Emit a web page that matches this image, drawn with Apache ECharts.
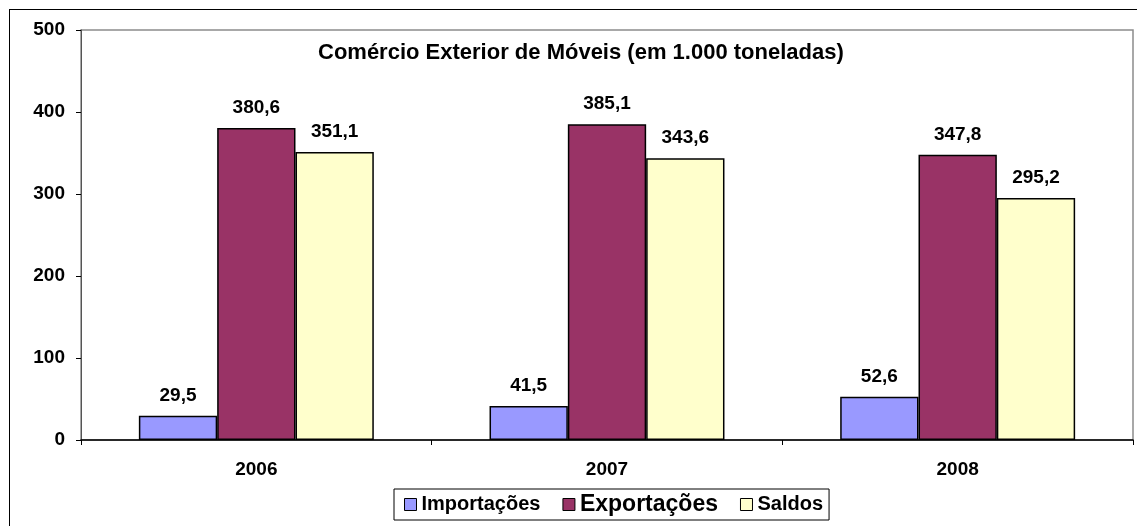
<!DOCTYPE html>
<html>
<head>
<meta charset="utf-8">
<title>Comércio Exterior de Móveis</title>
<style>
  html, body { margin: 0; padding: 0; background: #fff; }
  #frame { position: absolute; left: 9px; top: 9px; width: 1200px; height: 600px; border: 1px solid #000; }
  #main { position: absolute; left: 0; top: 0; width: 1137px; height: 526px; }
</style>
</head>
<body>
<div id="frame"></div>
<div id="main"></div>
<script src="https://cdn.jsdelivr.net/npm/echarts@6/dist/echarts.min.js"></script>
<script type="text/javascript">
    var anos = ['2006', '2007', '2008'];
    var importacoes = [29.5, 41.5, 52.6];
    var exportacoes = [380.6, 385.1, 347.8];
    var saldos = [351.1, 343.6, 295.2];
    var yTicks = [0, 100, 200, 300, 400, 500];

    var fonte = '"Liberation Sans", Arial, sans-serif';
    var myChart = echarts.init(document.getElementById('main'));

    function rotulo(v) {
        return String(v.value).replace('.', ',');
    }

    function serie(nome, dados, cor) {
        return {
            name: nome,
            type: 'bar',
            data: dados,
            barGap: '0%',
            barCategoryGap: '33%',
            itemStyle: { color: cor, borderColor: '#000', borderWidth: 1.5 },
            label: {
                show: true,
                position: 'top',
                distance: 11,
                formatter: rotulo,
                fontFamily: fonte,
                fontWeight: 'bold',
                fontSize: 19,
                color: '#000'
            }
        };
    }

    var option = {
        animation: false,
        title: {
            text: 'Comércio Exterior de Móveis (em 1.000 toneladas)',
            left: 313,
            top: 37,
            textStyle: { fontFamily: fonte, fontWeight: 'bold', fontSize: 22, color: '#000' }
        },
        grid: {
            left: 81, top: 30, right: 4, bottom: 86,
            show: true, borderColor: '#8c8c8c', borderWidth: 1.5
        },
        legend: {
            left: 394,
            top: 489,
            padding: [4, 6, 4, 10],
            borderColor: '#000',
            borderWidth: 1,
            itemWidth: 12,
            itemHeight: 12,
            itemGap: 22,
            icon: 'rect',
            itemStyle: { borderColor: '#000', borderWidth: 1 },
            textStyle: { fontFamily: fonte, fontWeight: 'bold', fontSize: 20, color: '#000', padding: [0, 0, 0, 0] },
            formatter: function (n) {
                return n === 'Exportações' ? '{big|' + n + '}' : n;
            },
            data: ['Importações', 'Exportações', 'Saldos']
        },
        xAxis: {
            type: 'category',
            data: anos,
            axisLine: { lineStyle: { color: '#000', width: 1.5 } },
            axisTick: { show: true, length: 5, lineStyle: { color: '#000' } },
            axisLabel: { fontFamily: fonte, fontWeight: 'bold', fontSize: 19, color: '#000', margin: 20 }
        },
        yAxis: {
            type: 'value',
            min: yTicks[0],
            max: yTicks[yTicks.length - 1],
            interval: yTicks[1] - yTicks[0],
            axisLine: { show: true, lineStyle: { color: '#555', width: 1 } },
            axisTick: { show: true, length: 5, lineStyle: { color: '#000' } },
            splitLine: { show: false },
            axisLabel: { fontFamily: fonte, fontWeight: 'bold', fontSize: 19, color: '#000', margin: 16 }
        },
        series: [
            serie('Importações', importacoes, '#9999ff'),
            serie('Exportações', exportacoes, '#993366'),
            serie('Saldos', saldos, '#ffffcc')
        ]
    };
    option.legend.textStyle.rich = { big: { fontFamily: fonte, fontWeight: 'bold', fontSize: 23, color: '#000' } };
    myChart.setOption(option);
</script>
</body>
</html>
